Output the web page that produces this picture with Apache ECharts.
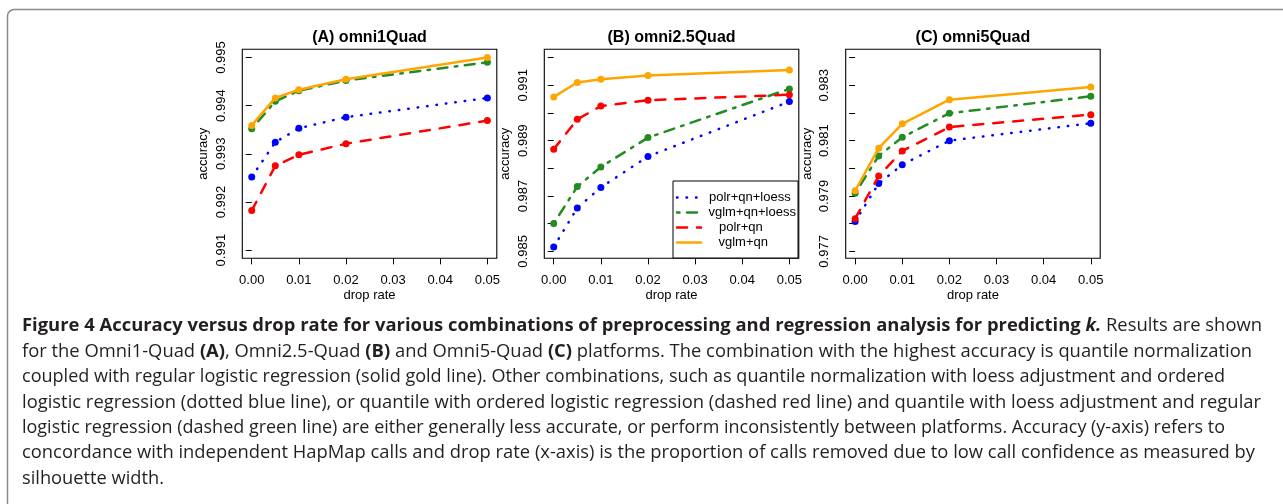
<!DOCTYPE html>
<html><head><meta charset="utf-8">
<script src="https://cdn.jsdelivr.net/npm/echarts@6/dist/echarts.min.js"></script>
<style>html,body{margin:0;padding:0;background:#fff}#c{width:1283px;height:504px}</style>
</head><body><div id="c"></div><script>
// ---------- data ----------
const dropRates = [0, 0.005, 0.01, 0.02, 0.05];
const seriesNames = ['polr+qn+loess', 'vglm+qn+loess', 'polr+qn', 'vglm+qn'];
const panelTitles = ['(A) omni1Quad', '(B) omni2.5Quad', '(C) omni5Quad'];
const xTicks = [0, 0.01, 0.02, 0.03, 0.04, 0.05];

const aPolrLoess = [0.99252, 0.99324, 0.99353, 0.99376, 0.99416];
const aVglmLoess = [0.99352, 0.99409, 0.99431, 0.99452, 0.99490];
const aPolr      = [0.99182, 0.99275, 0.99298, 0.99321, 0.99369];
const aVglm      = [0.99359, 0.99416, 0.99433, 0.99455, 0.99500];
const aYTicks  = [0.991, 0.992, 0.993, 0.994, 0.995];
const aYLabels = [0.991, 0.992, 0.993, 0.994, 0.995];

const bPolrLoess = [0.98516, 0.98657, 0.98731, 0.98843, 0.99041];
const bVglmLoess = [0.98601, 0.98734, 0.98805, 0.98911, 0.99087];
const bPolr      = [0.98869, 0.98977, 0.99025, 0.99046, 0.99066];
const bVglm      = [0.99058, 0.99110, 0.99122, 0.99135, 0.99155];
const bYTicks  = [0.985, 0.986, 0.987, 0.988, 0.989, 0.990, 0.991, 0.992];
const bYLabels = [0.985, 0.987, 0.989, 0.991];

const cPolrLoess = [0.97808, 0.97945, 0.98013, 0.98100, 0.98163];
const cVglmLoess = [0.97910, 0.98045, 0.98112, 0.98199, 0.98260];
const cPolr      = [0.97818, 0.97972, 0.98063, 0.98149, 0.98194];
const cVglm      = [0.97919, 0.98073, 0.98161, 0.98248, 0.98294];
const cYTicks  = [0.977, 0.978, 0.979, 0.980, 0.981, 0.982, 0.983, 0.984];
const cYLabels = [0.977, 0.979, 0.981, 0.983];

const captionLines = [
  [['b', 'Figure 4 Accuracy versus drop rate for various combinations of preprocessing and regression analysis for predicting '], ['bi', 'k.'], ['r', ' Results are shown']],
  [['r', 'for the Omni1-Quad '], ['b', '(A)'], ['r', ', Omni2.5-Quad '], ['b', '(B)'], ['r', ' and Omni5-Quad '], ['b', '(C)'], ['r', ' platforms. The combination with the highest accuracy is quantile normalization']],
  [['r', 'coupled with regular logistic regression (solid gold line). Other combinations, such as quantile normalization with loess adjustment and ordered']],
  [['r', 'logistic regression (dotted blue line), or quantile with ordered logistic regression (dashed red line) and quantile with loess adjustment and regular']],
  [['r', 'logistic regression (dashed green line) are either generally less accurate, or perform inconsistently between platforms. Accuracy (y-axis) refers to']],
  [['r', 'concordance with independent HapMap calls and drop rate (x-axis) is the proportion of calls removed due to low call confidence as measured by']],
  [['r', 'silhouette width.']]
];
const captionEnds = [1262, 1252, 1225, 1261, 1225, 1255, null];

// ---------- styling ----------
const colors = ['#0000ff', '#228b22', '#ff0000', '#ffa500'];
const dashes = [[0.5, 9], [2.5, 7.5, 10, 7.5], [10, 10], 'solid'];
const panelData = [
  [aPolrLoess, aVglmLoess, aPolr, aVglm],
  [bPolrLoess, bVglmLoess, bPolr, bVglm],
  [cPolrLoess, cVglmLoess, cPolr, cVglm]
];
const yTicks = [aYTicks, bYTicks, cYTicks];
const yLabels = [aYLabels, bYLabels, cYLabels];
const yRange = [[0.99083, 0.99517], [0.98475, 0.99230], [0.97675, 0.98430]];
const gridLeft = [242.3, 544.3, 845.7];
const gridW = 254.5;
const gridTop = 49.3, gridH = 209;
const FONT = '"Liberation Sans", Arial, sans-serif';
const CAPFONT = '"Open Sans", sans-serif';
const CAPSIZE = 17.5;
const AXSIZE = 13;

const grids = [], xAxes = [], yAxes = [], series = [], graphics = [];
for (let p = 0; p < 3; p++) {
  grids.push({left: gridLeft[p], top: gridTop, width: gridW, height: gridH,
    show: true, borderColor: '#000', borderWidth: 1.1, backgroundColor: 'transparent'});
  xAxes.push({gridIndex: p, type: 'value', min: -0.002, max: 0.052,
    name: 'drop rate', nameLocation: 'middle', nameGap: 31,
    nameTextStyle: {fontFamily: FONT, fontSize: AXSIZE, color: '#000'},
    axisLine: {show: false}, splitLine: {show: false},
    axisTick: {show: true, inside: false, length: 6, customValues: xTicks, lineStyle: {color: '#000', width: 1}},
    axisLabel: {customValues: xTicks, margin: 15.5, fontFamily: FONT, fontSize: AXSIZE, color: '#000',
      formatter: v => v.toFixed(2)}});
  yAxes.push({gridIndex: p, type: 'value', min: yRange[p][0], max: yRange[p][1],
    name: 'accuracy', nameLocation: 'middle', nameGap: 32, nameRotate: 90,
    nameTextStyle: {fontFamily: FONT, fontSize: AXSIZE, color: '#000'},
    axisLine: {show: false}, splitLine: {show: false},
    axisTick: {show: true, inside: false, length: 6, customValues: yTicks[p], lineStyle: {color: '#000', width: 1}},
    axisLabel: {customValues: yLabels[p], rotate: 90, margin: 14.5, fontFamily: FONT, fontSize: AXSIZE, color: '#000',
      formatter: v => v.toFixed(3)}});
  for (let s = 0; s < 4; s++) {
    series.push({type: 'line', name: seriesNames[s], xAxisIndex: p, yAxisIndex: p,
      data: dropRates.map((x, i) => [x, panelData[p][s][i]]),
      symbol: 'circle', symbolSize: 7, z: 2 + s,
      itemStyle: {color: colors[s]},
      lineStyle: {color: colors[s], width: 2.5, type: dashes[s], cap: 'round', join: 'round'},
      emphasis: {disabled: true}, animation: false});
  }
  graphics.push({type: 'text', x: gridLeft[p] + gridW / 2, y: 37.5,
    style: {text: panelTitles[p], fontFamily: FONT, fontWeight: 'bold', fontSize: 16, fill: '#000',
      align: 'center', verticalAlign: 'middle'}});
}

// legend in panel B
const legL = 673, legT = 181, legW = 125, legH = 77;
graphics.push({type: 'rect', shape: {x: legL, y: legT, width: legW, height: legH},
  style: {fill: '#fff', stroke: '#000', lineWidth: 1}, z: 100});
const legTextX = [709, 708.5, 719, 718.5];
for (let s = 0; s < 4; s++) {
  const y = legT + 16.5 + s * 15;
  graphics.push({type: 'line', shape: {x1: legL + 4, y1: y, x2: legL + 28, y2: y},
    style: {stroke: colors[s], lineWidth: 2.5, lineDash: dashes[s] === 'solid' ? null : dashes[s], lineCap: 'round'}, z: 101});
  graphics.push({type: 'text', x: legTextX[s], y: y,
    style: {text: seriesNames[s], fontFamily: FONT, fontSize: AXSIZE, fill: '#000', align: 'left', verticalAlign: 'middle'}, z: 101});
}

// frame (top and left edges with rounded corner)
const frameStyle = {fill: null, stroke: '#8c8c8c', lineWidth: 1.5};
graphics.push({type: 'line', shape: {x1: 7.5, y1: 16, x2: 7.5, y2: 700}, style: frameStyle, z: 0});
graphics.push({type: 'line', shape: {x1: 14, y1: 9.5, x2: 1400, y2: 9.5}, style: frameStyle, z: 0});
graphics.push({type: 'arc', shape: {cx: 14, cy: 16, r: 6.5, startAngle: Math.PI, endAngle: 1.5 * Math.PI, clockwise: true},
  style: frameStyle, z: 0});

// caption
const cv = document.createElement('canvas').getContext('2d');
const segFont = {b: ['normal', 'bold'], bi: ['italic', 'bold'], r: ['normal', 'normal']};
function measure(line) {
  let w = 0;
  for (const [k, t] of line) {
    cv.font = segFont[k][0] + ' ' + segFont[k][1] + ' ' + CAPSIZE + 'px ' + CAPFONT;
    w += cv.measureText(t).width;
  }
  return w;
}
const capX = 22, capY0 = 326.5, capStep = 25.4;
let scales = [];
captionLines.forEach((line, i) => {
  if (captionEnds[i] != null) scales.push((captionEnds[i] - capX) / measure(line));
});
const meanScale = scales.reduce((a, b) => a + b, 0) / scales.length;
const richStyles = {
  b: {fontFamily: CAPFONT, fontSize: CAPSIZE, fontWeight: 'bold', fill: '#231f20'},
  bi: {fontFamily: CAPFONT, fontSize: CAPSIZE, fontWeight: 'bold', fontStyle: 'italic', fill: '#231f20'},
  r: {fontFamily: CAPFONT, fontSize: CAPSIZE, fontWeight: 'normal', fill: '#231f20'}
};
captionLines.forEach((line, i) => {
  const sc = captionEnds[i] != null ? (captionEnds[i] - capX) / measure(line) : meanScale;
  graphics.push({type: 'text', x: capX, y: capY0 + i * capStep, scaleX: sc,
    style: {text: line.map(([k, t]) => '{' + k + '|' + t + '}').join(''), rich: richStyles,
      fontFamily: CAPFONT, fontSize: CAPSIZE, fill: '#231f20', align: 'left', verticalAlign: 'middle'}});
});

const chart = echarts.init(document.getElementById('c'), null, {renderer: 'canvas', width: 1283, height: 504});
chart.setOption({
  backgroundColor: '#fff', animation: false,
  grid: grids, xAxis: xAxes, yAxis: yAxes, series: series, graphic: graphics
});
</script></body></html>
